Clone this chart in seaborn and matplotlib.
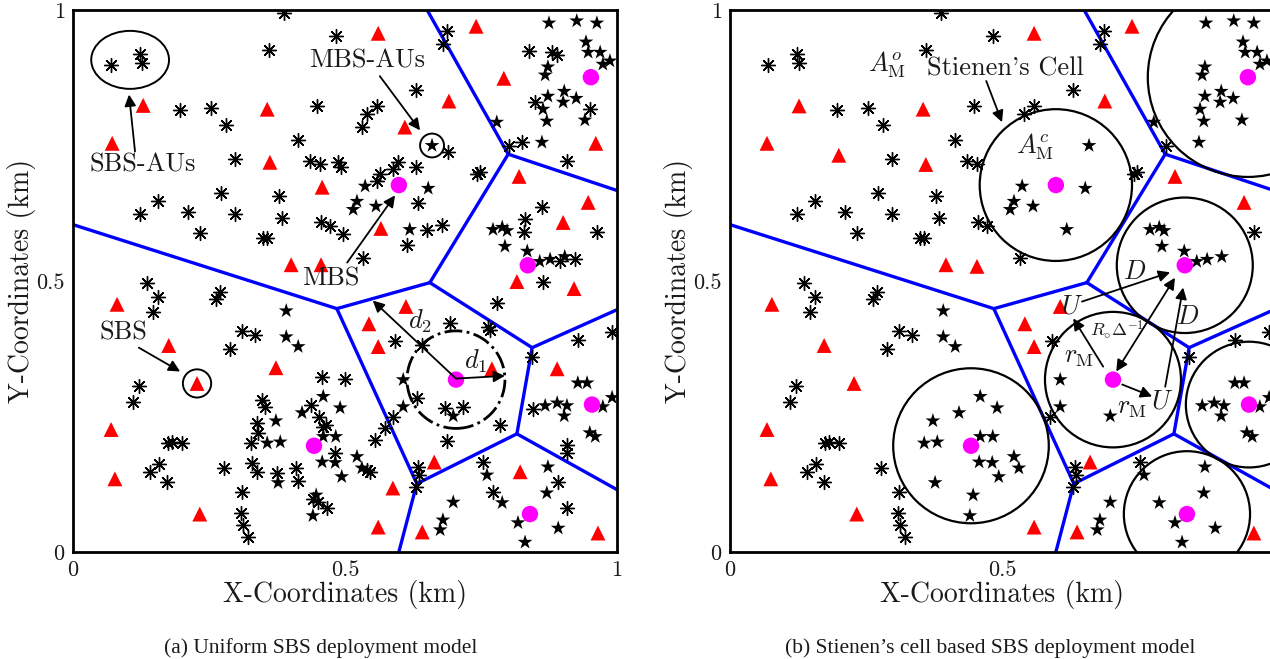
import numpy as np
import pandas as pd
import matplotlib
matplotlib.use("Agg")
import matplotlib.pyplot as plt
import seaborn as sns
from matplotlib.patches import Circle, Ellipse

# ---------------- data (km) ----------------
# users served by SBS (asterisks in panel a)
ast_x = [0.388,0.360,0.070,0.123,0.127,0.197,0.254,0.281,0.414,0.298,
         0.436,0.454,0.156,0.123,0.211,0.272,0.298,0.379,0.384,0.233,
         0.349,0.357,0.449,0.456,0.136,0.270,0.263,0.156,0.147,0.483,
         0.688,0.680,0.631,0.559,0.540,0.531,0.689,0.487,0.493,0.597,
         0.588,0.631,0.564,0.559,0.634,0.651,0.678,0.472,0.496,0.533,
         0.614,0.743,0.748,0.838,0.881,0.890,0.849,0.950,0.801,0.825,
         0.908,0.862,0.831,0.829,0.963,0.895,0.923,0.864,0.311,0.335,
         0.289,0.121,0.110,0.347,0.353,0.438,0.458,0.452,0.460,0.338,
         0.340,0.327,0.175,0.182,0.200,0.158,0.142,0.173,0.278,0.329,
         0.338,0.375,0.410,0.414,0.311,0.309,0.313,0.322,0.441,0.450,
         0.467,0.779,0.693,0.763,0.767,0.592,0.642,0.844,0.928,0.991,
         0.500,0.632,0.684,0.717,0.588,0.574,0.555,0.785,0.688,0.465,
         0.482,0.540,0.546,0.634,0.636,0.631,0.754,0.892,0.772,0.908,
         0.908,0.908,0.846]
ast_y = [0.994,0.926,0.898,0.919,0.902,0.815,0.819,0.787,0.760,0.725,
         0.721,0.715,0.647,0.623,0.627,0.662,0.623,0.656,0.617,0.588,
         0.579,0.580,0.823,0.608,0.497,0.479,0.466,0.470,0.442,0.952,
         0.961,0.937,0.852,0.823,0.808,0.784,0.738,0.719,0.710,0.719,
         0.706,0.710,0.697,0.684,0.643,0.595,0.604,0.601,0.586,0.543,
         0.566,0.697,0.701,0.924,0.922,0.917,0.830,0.817,0.750,0.756,
         0.721,0.636,0.614,0.591,0.590,0.536,0.540,0.499,0.407,0.401,
         0.375,0.307,0.277,0.281,0.268,0.272,0.323,0.250,0.231,0.238,
         0.220,0.201,0.201,0.203,0.201,0.163,0.148,0.129,0.155,0.165,
         0.148,0.146,0.155,0.131,0.111,0.072,0.050,0.028,0.098,0.092,
         0.081,0.460,0.423,0.416,0.410,0.390,0.381,0.359,0.392,0.405,
         0.320,0.285,0.266,0.268,0.250,0.229,0.207,0.235,0.205,0.235,
         0.183,0.152,0.148,0.157,0.142,0.120,0.166,0.129,0.111,0.198,
         0.183,0.081,0.264]

# users served by MBS (stars)
star_x = [0.660,0.537,0.522,0.515,0.557,0.653,0.619,0.875,0.926,0.963,
          0.943,0.947,0.969,0.987,0.974,0.873,0.868,0.903,0.873,0.901,
          0.925,0.864,0.871,0.941,0.779,0.862,0.772,0.789,0.798,0.794,
          0.835,0.858,0.877,0.904,0.392,0.392,0.414,0.460,0.421,0.373,
          0.460,0.357,0.381,0.458,0.377,0.447,0.441,0.491,0.607,0.607,
          0.699,0.483,0.522,0.482,0.531,0.494,0.868,0.890,0.908,0.903,
          0.928,0.945,0.974,0.991,0.950,0.960,0.761,0.789,0.699,0.680,
          0.675,0.818,0.831,0.873,0.871,0.892]
star_y = [0.750,0.675,0.647,0.632,0.638,0.671,0.595,0.976,0.980,0.976,
          0.941,0.922,0.922,0.906,0.900,0.895,0.880,0.850,0.841,0.830,
          0.837,0.817,0.795,0.797,0.793,0.756,0.595,0.599,0.593,0.564,
          0.555,0.536,0.540,0.545,0.445,0.397,0.379,0.287,0.257,0.242,
          0.213,0.201,0.203,0.166,0.128,0.105,0.067,0.266,0.318,0.268,
          0.251,0.213,0.176,0.165,0.155,0.139,0.270,0.275,0.270,0.251,
          0.312,0.312,0.268,0.285,0.220,0.213,0.142,0.091,0.092,0.059,
          0.041,0.054,0.018,0.157,0.109,0.044]

# SBS locations, panel (a) uniform deployment
sbs_a_x = [0.129,0.072,0.357,0.362,0.458,0.401,0.456,0.561,0.741,0.792,
           0.691,0.610,0.961,0.820,0.566,0.947,0.901,0.816,0.921,0.081,
           0.176,0.373,0.228,0.070,0.077,0.233,0.612,0.544,0.561,0.770,
           0.890,0.664,0.588,0.822,0.561,0.642,0.965]
sbs_a_y = [0.824,0.754,0.817,0.719,0.673,0.530,0.530,0.957,0.970,0.874,
           0.832,0.784,0.754,0.693,0.597,0.645,0.608,0.499,0.486,0.457,
           0.381,0.340,0.311,0.226,0.135,0.070,0.453,0.421,0.379,0.338,
           0.338,0.166,0.118,0.148,0.046,0.037,0.035]

# SBS locations, panel (b) Stienen's cell based deployment
sbs_b_x = [0.127,0.068,0.200,0.355,0.360,0.397,0.077,0.173,0.228,0.068,
           0.075,0.233,0.559,0.739,0.689,0.454,0.818,0.945,0.607,0.542,
           0.559,0.662,0.559,0.638,0.963]
sbs_b_y = [0.823,0.754,0.732,0.817,0.715,0.530,0.457,0.381,0.311,0.226,
           0.135,0.070,0.957,0.970,0.832,0.527,0.693,0.645,0.453,0.421,
           0.379,0.166,0.046,0.037,0.035]

# MBS locations and Stienen radii
mbs_x = [0.952,0.599,0.836,0.704,0.443,0.954,0.840]
mbs_y = [0.876,0.677,0.529,0.318,0.196,0.272,0.070]
stienen_r = [0.184,0.140,0.125,0.125,0.143,0.116,0.116]

# Voronoi tessellation of the MBSs
vor_x = [0.000,0.485,0.656,0.800,0.651,1.000,0.844,1.000,0.816,1.000,0.632,0.599]
vor_y = [0.604,0.449,0.497,0.734,1.000,0.667,0.377,0.447,0.218,0.115,0.126,0.000]
vor_edges = [(0,1),(1,2),(2,3),(3,4),(3,5),(2,6),(6,7),(6,8),(8,9),(8,10),(10,11),(1,10)]

# ---------------- style ----------------
sns.set_style("white")
plt.rcParams["font.family"] = ["cmr10"]
plt.rcParams["mathtext.fontset"] = "cm"
plt.rcParams["axes.unicode_minus"] = False
plt.rcParams["axes.formatter.use_mathtext"] = True

TXT = "#1a1a1a"
ANN = 19
fig = plt.figure(figsize=(12.7, 6.59), dpi=100)
W, H = 1270, 659
axA = fig.add_axes([73 / W, 107 / H, 544 / W, 542 / H])
axB = fig.add_axes([730 / W, 107 / H, 544 / W, 542 / H])

vor_df = pd.DataFrame(
    [dict(x=vor_x[i], y=vor_y[i], edge=k) for k, e in enumerate(vor_edges) for i in e]
)

ast_marker = (8, 2, 0)


def base_panel(ax, ax_x, ax_y, sbs_x, sbs_y):
    sns.lineplot(data=vor_df, x="x", y="y", units="edge", estimator=None, sort=False,
                 color="#0000ff", lw=2.4, ax=ax, legend=False, zorder=2)
    sns.scatterplot(x=ax_x, y=ax_y, marker=ast_marker, color="black", s=100,
                    linewidth=1.0, ax=ax, zorder=4)
    sns.scatterplot(x=star_x, y=star_y, marker="*", color="black", s=125,
                    edgecolor="none", linewidth=0, ax=ax, zorder=4)
    sns.scatterplot(x=sbs_x, y=sbs_y, marker="^", color="#ff0000", s=115,
                    edgecolor="none", linewidth=0, ax=ax, zorder=5)
    sns.scatterplot(x=mbs_x, y=mbs_y, marker="o", color="#ff00ff", s=140,
                    edgecolor="none", linewidth=0, ax=ax, zorder=6)
    ax.set_xlim(0, 1)
    ax.set_ylim(0, 1)
    ax.set_xticks([0, 0.5, 1])
    ax.set_xticklabels(["0", "0.5", "1"])
    ax.set_yticks([0, 0.5, 1])
    ax.set_yticklabels(["0", "0.5", "1"])
    ax.tick_params(direction="in", length=5, width=1, labelsize=16, colors=TXT, pad=6)
    for sp in ax.spines.values():
        sp.set_linewidth(2)
        sp.set_color("black")
        sp.set_visible(True)
    ax.set_xlabel("X-Coordinates (km)", fontsize=20, color=TXT)
    ax.set_ylabel("Y-Coordinates (km)", fontsize=20, color=TXT)
    ax.xaxis.set_label_coords(0.5, -0.052)
    ax.yaxis.set_label_coords(-0.068, 0.5)


def arrow(ax, xy_from, xy_to, style="-|>", lw=1.3):
    ax.annotate("", xy=xy_to, xytext=xy_from,
                arrowprops=dict(arrowstyle=style, color="black", lw=lw,
                                mutation_scale=17, shrinkA=0, shrinkB=0), zorder=7)


def label(ax, x, y, s, size=ANN):
    ax.text(x, y, s, fontsize=size, color=TXT, ha="center", va="center", zorder=8)


# ---------------- panel (a) ----------------
base_panel(axA, ast_x, ast_y, sbs_a_x, sbs_a_y)
axA.add_patch(Ellipse((0.105, 0.908), 0.143, 0.107, fill=False, lw=1.4, color="black", zorder=7))
label(axA, 0.129, 0.715, "SBS-AUs")
arrow(axA, (0.114, 0.739), (0.103, 0.844))
label(axA, 0.540, 0.907, "MBS-AUs")
arrow(axA, (0.564, 0.878), (0.638, 0.778))
axA.add_patch(Circle((0.660, 0.750), 0.022, fill=False, lw=1.4, color="black", zorder=7))
label(axA, 0.474, 0.505, "MBS")
arrow(axA, (0.504, 0.534), (0.592, 0.658))
label(axA, 0.092, 0.405, "SBS")
arrow(axA, (0.121, 0.377), (0.197, 0.333))
axA.add_patch(Circle((0.228, 0.311), 0.026, fill=False, lw=1.4, color="black", zorder=7))
axA.add_patch(Circle((mbs_x[3], mbs_y[3]), 0.090, fill=False, lw=2.0, ls="-.",
                     color="black", zorder=7))
arrow(axA, (0.704, 0.320), (0.551, 0.464))
label(axA, 0.638, 0.425, "$d_2$")
arrow(axA, (0.704, 0.320), (0.794, 0.325))
label(axA, 0.741, 0.352, "$d_1$")

# ---------------- panel (b) ----------------
cx = np.array(mbs_x)[:, None]
cy = np.array(mbs_y)[:, None]
rr = np.array(stienen_r)[:, None]
dist = np.hypot(np.array(ast_x)[None, :] - cx, np.array(ast_y)[None, :] - cy)
outside = ~(dist < rr).any(axis=0)
bx = list(np.array(ast_x)[outside])
by = list(np.array(ast_y)[outside])
base_panel(axB, bx, by, sbs_b_x, sbs_b_y)
for x0, y0, r0 in zip(mbs_x, mbs_y, stienen_r):
    axB.add_patch(Circle((x0, y0), r0, fill=False, lw=1.6, color="black", zorder=3))

label(axB, 0.289, 0.900, r"$A_{\mathrm{M}}^{o}$")
label(axB, 0.507, 0.891, "Stienen's Cell")
arrow(axB, (0.471, 0.869), (0.500, 0.793))
label(axB, 0.561, 0.747, r"$A_{\mathrm{M}}^{c}$")
label(axB, 0.629, 0.453, "$U$")
arrow(axB, (0.647, 0.462), (0.809, 0.516))
label(axB, 0.744, 0.516, "$D$")
arrow(axB, (0.818, 0.506), (0.710, 0.333), style="<|-|>")
label(axB, 0.711, 0.408, r"$R_{\circ}\Delta^{-1}$", size=13)
label(axB, 0.795, 0.277, "$U$")
arrow(axB, (0.800, 0.305), (0.833, 0.488))
label(axB, 0.842, 0.434, "$D$")
arrow(axB, (0.721, 0.309), (0.776, 0.287))
label(axB, 0.739, 0.266, r"$r_{\mathrm{M}}$")
arrow(axB, (0.686, 0.342), (0.631, 0.431))
label(axB, 0.641, 0.359, r"$r_{\mathrm{M}}$")

# ---------------- captions ----------------
fig.text(321 / W, 1 - 648 / H, "(a) Uniform SBS deployment model",
         family="Liberation Serif", fontsize=15.5, color=TXT, ha="center", va="center")
fig.text(990 / W, 1 - 648 / H, "(b) Stienen\u2019s cell based SBS deployment model",
         family="Liberation Serif", fontsize=15.5, color=TXT, ha="center", va="center")

fig.savefig("out.png", dpi=100)
